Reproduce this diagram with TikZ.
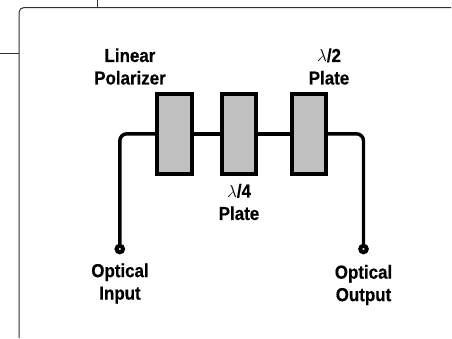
\documentclass[tikz,border=0pt]{standalone}
\usepackage{amsmath,amssymb}
\usepackage{xcolor}
\usepackage{fontspec}
\setmainfont[FakeStretch=0.9,BoldFeatures={FakeBold=0.4}]{Liberation Sans}
\usepackage{tikz}
\usetikzlibrary{calc,positioning}
\definecolor{ink}{HTML}{000000}
\definecolor{plategray}{HTML}{C0C0C0}
\definecolor{edge}{HTML}{303030}
\tikzset{
  frameline/.style={draw=edge, line width=1pt},
  wire/.style={draw=ink, line width=3.4pt, rounded corners=7pt},
  plate/.style={rectangle, draw=ink, fill=plategray, line width=3.6pt, minimum width=34.5pt, minimum height=80pt, inner sep=0pt},
  port/.style={circle, draw=ink, fill=white, line width=4pt, minimum size=6.5pt, inner sep=0pt},
  lab/.style={text=ink, font=\fontsize{18.8}{22.5}\selectfont\bfseries, align=center, inner sep=0pt},
}
\begin{document}
\begin{tikzpicture}[x=1pt,y=-1pt]
\useasboundingbox (0,0) rectangle (452,338);

% outer frame
\coordinate (frameBL) at (19,338);
\coordinate (frameTL) at (19,7.5);
\coordinate (frameTR) at (451,7.5);
\draw[frameline, rounded corners=5pt] (frameBL) -- (frameTL) -- (frameTR);
\draw[frameline] (97,0) -- (97,7.5);
\draw[frameline] (0,53.5) -- (19,53.5);

% plates
\node[plate] (polarizer) at (174.5,133.8) {};
\node[plate] (quarter) at (239,133.8) {};
\node[plate] (half) at (309,133.8) {};

% ports
\node[port] (input) at (119.8,249) {};
\node[port] (output) at (363.5,249) {};

% fibre path
\draw[wire] (input) |- (polarizer.west);
\draw[wire] (polarizer.east) -- (quarter.west);
\draw[wire] (quarter.east) -- (half.west);
\draw[wire] (half.east) -| (output);

% labels
\node[lab] (labpol) at (130,66.5) {Linear\\Polarizer};
\node[lab] (labhalf) at (329,66.5) {$\lambda$/2\\Plate};
\node[lab] (labquarter) at (239,202) {$\lambda$/4\\Plate};
\node[lab] (labin) at (120,283.5) {Optical\\Input};
\node[lab] (labout) at (363.5,285) {Optical\\Output};
\end{tikzpicture}
\end{document}
